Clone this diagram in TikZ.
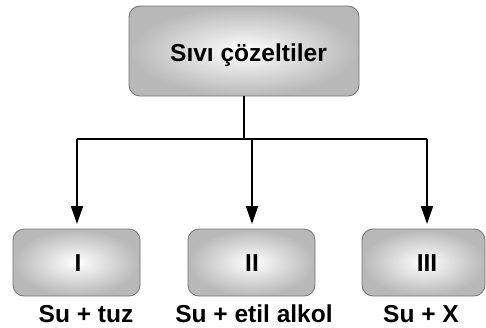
\documentclass[tikz,border=0pt]{standalone}
\usepackage{fontspec}
\setmainfont{Liberation Sans}
\usetikzlibrary{arrows.meta}
\begin{document}
\begin{tikzpicture}[x=1pt,y=-1pt,
  box/.style={draw=black!55,line width=0.8pt,rounded corners=11pt,inner color=white,outer color=black!28},
  txt/.style={font=\bfseries\fontsize{24.5}{28}\selectfont,inner sep=0pt},
  conn/.style={line width=1.8pt,-{Triangle[length=18pt,width=12pt]}}]
\useasboundingbox (0,0) rectangle (486,327);
\node[box,minimum width=230pt,minimum height=90pt] (top) at (244,51) {};
\node[txt,anchor=base] (tt) at (248.5,61.5) {Sıvı çözeltiler};
\node[box,minimum width=127pt,minimum height=67pt] (b1) at (76.5,262.5) {};
\node[box,minimum width=127pt,minimum height=67pt] (b2) at (251.5,262.5) {};
\node[box,minimum width=123pt,minimum height=67pt] (b3) at (423.5,262.5) {};
\node[txt,anchor=base] (n1) at (78,271) {I};
\node[txt,anchor=base] (n2) at (252,271) {II};
\node[txt,anchor=base] (n3) at (427,271) {III};
\node[txt,anchor=base] (l1) at (86,322) {Su + tuz};
\node[txt,anchor=base] (l2) at (254,322) {Su + etil alkol};
\node[txt,anchor=base] (l3) at (421,322) {Su + X};
\coordinate (j) at (244,139);
\coordinate (j1) at (77,139);
\coordinate (j2) at (252,139);
\coordinate (j3) at (427,139);
\coordinate (e1) at (77,224);
\coordinate (e2) at (252,224);
\coordinate (e3) at (427,224);
\draw[line width=1.8pt] (top.south) -- (j);
\draw[line width=1.8pt] (j1) -- (j3);
\draw[conn] (j1) -- (e1);
\draw[conn] (j2) -- (e2);
\draw[conn] (j3) -- (e3);
\end{tikzpicture}
\end{document}
